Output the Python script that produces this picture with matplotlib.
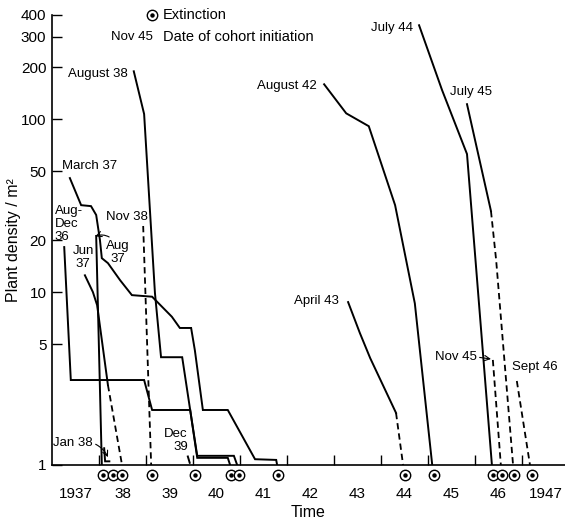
import matplotlib.pyplot as plt
from matplotlib.lines import Line2D

plt.rcParams['font.family'] = ['Liberation Sans', 'DejaVu Sans']

# cohorts: time in decimal years, density in plants per m2
augdec36_t = [1937.26, 1937.40, 1938.96, 1939.13, 1939.94, 1940.09, 1940.74, 1940.79]
augdec36_v = [18.2, 3.1, 3.1, 2.08, 2.08, 1.10, 1.10, 1.0]

march37_t = [1937.38, 1937.62, 1937.83, 1937.94, 1938.02, 1938.06, 1938.19, 1938.45,
             1938.70, 1939.13, 1939.55, 1939.72, 1939.96, 1940.04, 1940.21, 1940.74,
             1941.32, 1941.77, 1941.79]
march37_v = [45.6, 31.8, 31.4, 27.9, 20.0, 15.7, 14.7, 11.7,
             9.6, 9.4, 7.2, 6.2, 6.2, 4.6, 2.08, 2.08,
             1.08, 1.07, 1.0]

jun37_t = [1937.70, 1937.87, 1937.96, 1938.19]
jun37_v = [12.5, 10.0, 8.4, 2.9]
jun37_dash_t = [1938.19, 1938.49]
jun37_dash_v = [2.9, 1.0]

aug37_t = [1937.94, 1938.06]
aug37_v = [21.1, 1.0]

jan38_t = [1938.11, 1938.13, 1938.22]
jan38_v = [1.25, 1.05, 1.05]

aug38_t = [1938.74, 1938.96, 1939.19, 1939.32, 1939.77, 1939.94, 1940.09, 1940.87, 1940.94]
aug38_v = [189, 107, 9.9, 4.2, 4.2, 2.08, 1.13, 1.13, 1.0]

nov38_dash_t = [1938.94, 1939.11]
nov38_dash_v = [24.1, 1.0]

dec39_t = [1939.89, 1939.93]
dec39_v = [1.12, 1.03]

aug42_t = [1942.79, 1943.26, 1943.74, 1943.98, 1944.30, 1944.72, 1945.09]
aug42_v = [159, 108, 91, 58, 31.8, 8.6, 1.0]

apr43_t = [1943.30, 1943.55, 1943.77, 1944.32]
apr43_v = [8.75, 5.8, 4.15, 2.0]
apr43_dash_t = [1944.32, 1944.47]
apr43_dash_v = [2.0, 1.0]

jul44_t = [1944.81, 1945.30, 1945.83, 1946.36]
jul44_v = [349, 147, 62.8, 1.0]

jul45_t = [1945.83, 1946.34]
jul45_v = [122, 29.4]
jul45_dash_t = [1946.34, 1946.45, 1946.81]
jul45_dash_v = [29.4, 15.3, 1.0]

nov45_dash_t = [1946.38, 1946.55]
nov45_dash_v = [4.05, 1.0]

sep46_dash_t = [1946.89, 1947.17]
sep46_dash_v = [3.06, 1.0]

extinct_t = [1938.09, 1938.30, 1938.49, 1939.13, 1940.04, 1940.81, 1940.98, 1941.81,
             1944.51, 1945.13, 1946.38, 1946.57, 1946.83, 1947.21]

yticks = [1, 5, 10, 20, 50, 100, 200, 300, 400]
year_edges = [1938, 1939, 1940, 1941, 1942, 1943, 1944, 1945, 1946, 1947]
year_labels = ['1937', '38', '39', '40', '41', '42', '43', '44', '45', '46', '1947']

fig = plt.figure(figsize=(5.65, 5.26), dpi=100)
ax = fig.add_axes([52 / 565, 61 / 526, 513 / 565, 450 / 526])
ax.set_yscale('log')
ax.set_xlim(1937, 1947.915)
ax.set_ylim(1, 400)

solid = dict(color='black', lw=1.4, solid_joinstyle='miter')
dashed = dict(color='black', lw=1.3, linestyle=(0, (3.5, 2.2)))

for t, v in [(augdec36_t, augdec36_v), (march37_t, march37_v), (jun37_t, jun37_v),
             (aug37_t, aug37_v), (jan38_t, jan38_v), (aug38_t, aug38_v),
             (dec39_t, dec39_v), (aug42_t, aug42_v), (apr43_t, apr43_v),
             (jul44_t, jul44_v), (jul45_t, jul45_v)]:
    ax.plot(t, v, **solid)
for t, v in [(jun37_dash_t, jun37_dash_v), (nov38_dash_t, nov38_dash_v),
             (apr43_dash_t, apr43_dash_v), (jul45_dash_t, jul45_dash_v),
             (nov45_dash_t, nov45_dash_v), (sep46_dash_t, sep46_dash_v)]:
    ax.plot(t, v, **dashed)

# extinction marks sit just under the time axis
ext_y = [0.875] * len(extinct_t)
ax.plot(extinct_t, ext_y, 'o', ms=7.5, mfc='white', mec='black', mew=1.0, clip_on=False)
ax.plot(extinct_t, ext_y, 'o', ms=2.2, color='black', clip_on=False)

ax.spines['top'].set_visible(False)
ax.spines['right'].set_visible(False)
for s in ['left', 'bottom']:
    ax.spines[s].set_linewidth(1.2)

ax.set_yticks(yticks)
ax.set_yticklabels([str(y) for y in yticks])
ax.yaxis.set_minor_locator(plt.NullLocator())
ax.tick_params(axis='y', direction='in', length=7, width=1, labelsize=11, pad=4)

ax.set_xticks(year_edges)
ax.set_xticklabels([''] * len(year_edges))
ax.set_xticks([1937.5 + i for i in range(len(year_labels))], minor=True)
ax.set_xticklabels(year_labels, minor=True)
ax.tick_params(axis='x', which='major', direction='in', length=7, width=1)
ax.tick_params(axis='x', which='minor', length=0, labelsize=11, pad=16)

ax.set_xlabel('Time', fontsize=11.5, labelpad=3)
ax.set_ylabel('Plant density / m²', fontsize=11.5, labelpad=0)

fs = 9.5
ax.text(1938.62, 182, 'August 38', fontsize=fs, ha='right', va='center')
ax.text(1937.21, 53.5, 'March 37', fontsize=fs, ha='left', va='center')
ax.text(1937.06, 24.7, 'Aug-\nDec\n36', fontsize=fs, ha='left', va='center', linespacing=1.1)
ax.text(1938.15, 27.1, 'Nov 38', fontsize=fs, ha='left', va='center')
ax.text(1937.66, 15.9, 'Jun\n37', fontsize=fs, ha='center', va='center', linespacing=1.1)
ax.text(1939.89, 1.39, 'Dec\n39', fontsize=fs, ha='right', va='center', multialignment='right',
        linespacing=1.1)
ax.text(1943.11, 8.87, 'April 43', fontsize=fs, ha='right', va='center')
ax.text(1942.64, 155, 'August 42', fontsize=fs, ha='right', va='center')
ax.text(1944.68, 336, 'July 44', fontsize=fs, ha='right', va='center')
ax.text(1945.47, 143, 'July 45', fontsize=fs, ha='left', va='center')
ax.text(1946.79, 3.69, 'Sept 46', fontsize=fs, ha='left', va='center')

arrow = dict(arrowstyle='->', color='black', lw=0.8, shrinkA=0, shrinkB=0)
ax.annotate('Aug\n37', xy=(1937.92, 21.0), xytext=(1938.40, 17.0), fontsize=fs,
            ha='center', va='center', linespacing=1.1,
            arrowprops=dict(arrow, connectionstyle='arc3,rad=0.3', relpos=(0.3, 1.0)))
ax.annotate('Jan 38', xy=(1938.19, 1.11), xytext=(1937.87, 1.34), fontsize=fs,
            ha='right', va='center',
            arrowprops=dict(arrow, connectionstyle='arc3,rad=-0.2', relpos=(1.0, 0.5)))
ax.annotate('Nov 45', xy=(1946.34, 4.1), xytext=(1946.04, 4.21), fontsize=fs,
            ha='right', va='center',
            arrowprops=dict(arrow, relpos=(1.0, 0.5)))

# key at the top
fig.add_artist(Line2D([152 / 565], [1 - 15 / 526], marker='o', ms=7.5, mfc='white',
                      mec='black', mew=1.0, linestyle='none'))
fig.add_artist(Line2D([152 / 565], [1 - 15 / 526], marker='o', ms=2.2, color='black',
                      linestyle='none'))
fig.text(163 / 565, 1 - 15 / 526, 'Extinction', fontsize=10.5, ha='left', va='center')
fig.text(153 / 565, 1 - 37 / 526, 'Nov 45', fontsize=fs, ha='right', va='center')
fig.text(163 / 565, 1 - 37 / 526, 'Date of cohort initiation', fontsize=10.5,
         ha='left', va='center')

fig.savefig('out.png', dpi=100)
